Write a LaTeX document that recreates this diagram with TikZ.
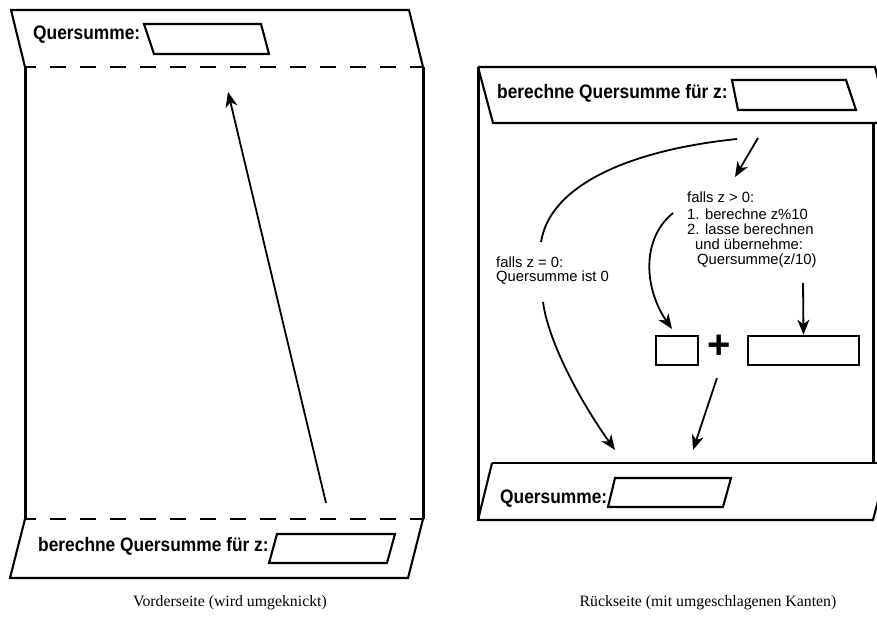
\documentclass[tikz,border=0pt]{standalone}
\usepackage{fontspec}
\setmainfont{Liberation Serif}
\setsansfont{Liberation Sans}
\usetikzlibrary{arrows.meta}
\newcommand{\flab}[1]{\scalebox{0.89}[1]{\fontsize{19.5}{19.5}\selectfont\sffamily\bfseries #1}}
\tikzset{
  frame/.style={line width=3pt},
  edge/.style={line width=2.1pt, line join=miter},
  fold/.style={line width=2.1pt, dash pattern=on 16pt off 14pt, dash phase=5pt},
  arr/.style={line width=1.8pt, -{Stealth[length=15pt,width=12pt,inset=4.5pt]}},
  small/.style={font=\fontsize{14.8}{14.8}\selectfont\sffamily, inner sep=0pt, align=left},
  flabel/.style={inner sep=0pt, anchor=base west},
  caption/.style={font=\fontsize{15.8}{16}\selectfont, inner sep=0pt, anchor=base},
  field/.style={line width=2.6pt}
}
\begin{document}
\begin{tikzpicture}[x=1pt,y=-1pt]
\useasboundingbox (0,0) rectangle (877,621);
\clip (0,0) rectangle (877,621);

% ---------------- Left card (Vorderseite) ----------------
\draw[edge] (25,67) -- (11,10) -- (409,10) -- (423,67);
\draw[fold] (25,67) -- (423,67);
\draw[frame] (25,67) -- (25,519);
\draw[frame] (423,67) -- (423,519);
\draw[fold] (25,519) -- (423,519);
\draw[edge] (25,519) -- (10,578) -- (408,578) -- (423,519);

\node[flabel] (lq) at (33,39) {\flab{Quersumme:}};
\draw[edge] (144,24) -- (261,24) -- (269,54) -- (154,54) -- cycle;

\node[flabel] (lb) at (38,551) {\flab{berechne Quersumme für z:}};
\draw[edge] (277,534) -- (395,534) -- (387,563) -- (269,563) -- cycle;

\coordinate (la) at (326,503);
\coordinate (lt) at (228,92);
\draw[arr] (la) -- (lt);

% ---------------- Right card (Rückseite) ----------------
\draw[frame] (478,67) -- (478,520);
\draw[edge] (478,67) -- (875,67) -- (889,123);
\draw[edge] (478,67) -- (493,123) -- (889,123);
\draw[frame] (873,123) -- (873,463);
\draw[edge] (492,463) -- (888,463);
\draw[edge] (492,463) -- (478,520) -- (873,520) -- (888,463);

\node[flabel] (rb) at (497,98) {\flab{berechne Quersumme für z:}};
\draw[edge] (732,80) -- (846,80) -- (856,110) -- (738,110) -- cycle;

\node[flabel] (rq) at (500,503) {\flab{Quersumme:}};
\draw[edge] (615,478) -- (731,478) -- (723,507) -- (608,507) -- cycle;

% labels
\node[small, anchor=north west] (gt) at (687,192)
  {falls z > 0:\\[2pt]
   1. berechne z\%10\\
   2. lasse berechnen\\
   \hspace{8pt}und übernehme:\\
   \hspace{10pt}Quersumme(z/10)};
\node[small, anchor=north west] (eq) at (496,257)
  {falls z = 0:\\[-1.5pt]
   Quersumme ist 0};

% boxes
\node[field, draw, minimum width=42pt, minimum height=29pt, inner sep=0pt] (b1) at (677,350.5) {};
\node[inner sep=0pt, font=\fontsize{40}{40}\selectfont\sffamily\bfseries] (plus) at (719.5,347) {+};
\node[field, draw, minimum width=111pt, minimum height=29pt, inner sep=0pt] (b2) at (803.5,350.5) {};

% connectors
\coordinate (s1) at (758,138);
\coordinate (t1) at (735,177);
\draw[arr] (s1) -- (t1);

\coordinate (s2) at (737,139);
\coordinate (t2) at (541,242);
\draw[line width=1.8pt] (s2) .. controls (630,150) and (550,185) .. (t2);

\coordinate (s3) at (543,302);
\coordinate (t3) at (615,450);
\draw[arr] (s3) .. controls (548,340) and (578,398) .. (t3);

\coordinate (s4) at (673,213);
\coordinate (t4) at (672,329);
\draw[arr] (s4) .. controls (640,240) and (645,290) .. (t4);

\coordinate (s5) at (803,283);
\draw[arr] (s5) -- (b2.north);

\coordinate (s6) at (717,378);
\coordinate (t6) at (693,450);
\draw[arr] (s6) -- (t6);

% captions
\node[caption] (cap1) at (230,606) {Vorderseite (wird umgeknickt)};
\node[caption] (cap2) at (708,606) {Rückseite (mit umgeschlagenen Kanten)};
\end{tikzpicture}
\end{document}
